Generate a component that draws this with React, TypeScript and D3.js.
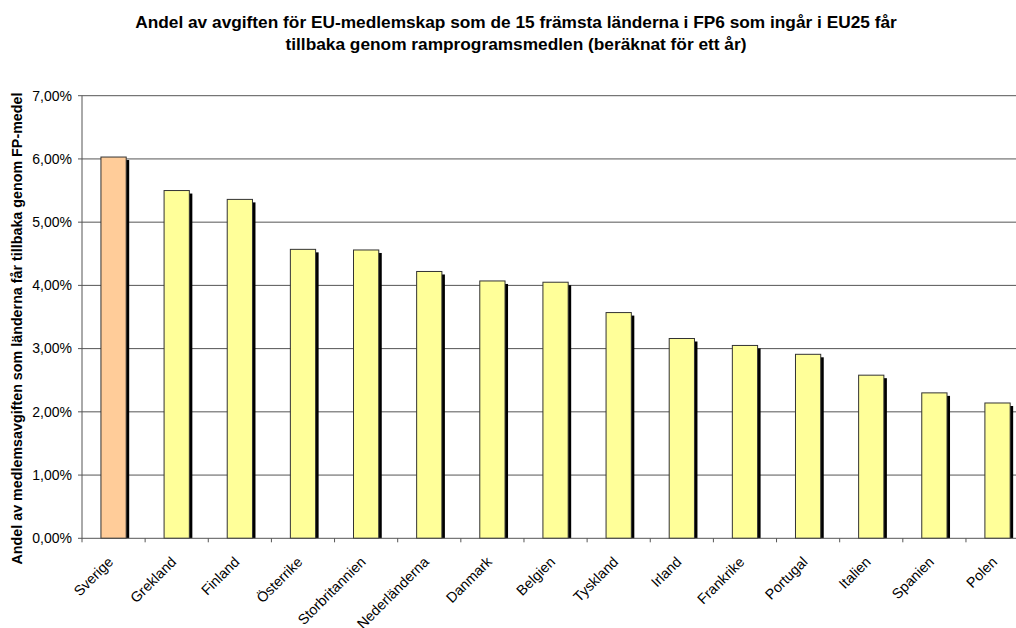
import React, { useEffect } from "react";
import * as d3 from "d3";

const categories = [
  "Sverige", "Grekland", "Finland", "Österrike", "Storbritannien", "Nederländerna",
  "Danmark", "Belgien", "Tyskland", "Irland", "Frankrike", "Portugal", "Italien", "Spanien", "Polen",
];
const values = [6.03, 5.5, 5.36, 4.57, 4.56, 4.22, 4.07, 4.05, 3.57, 3.16, 3.05, 2.91, 2.58, 2.3, 2.14];
const highlight = ["Sverige"];
const yTicks = [0, 1, 2, 3, 4, 5, 6, 7];
const titleLines = [
  "Andel av avgiften för EU-medlemskap som de 15 främsta länderna i FP6 som ingår i EU25 får",
  "tillbaka genom ramprogramsmedlen (beräknat för ett år)",
];
const yTitle = "Andel av medlemsavgiften som länderna får tillbaka genom FP-medel";

const W = 1016;
const H = 628;
const left = 82;
const step = 63.14;
const top = 95.7;
const bottom = 538.3;
const font = "'Liberation Sans', Arial, sans-serif";

export default function App() {
  useEffect(() => {
    document.body.style.margin = "0";
  }, []);
  const x = d3
    .scaleBand<string>()
    .domain(categories)
    .range([left, left + step * categories.length])
    .paddingInner(0.6)
    .paddingOuter(0.3);
  const y = d3.scaleLinear().domain([0, 7]).range([bottom, top]);
  const fmt = (v: number) => v.toFixed(2).replace(".", ",") + "%";
  const bw = x.bandwidth();
  return (
    <svg width={W} height={H} style={{ position: "absolute", left: 0, top: 0, background: "#fff" }}>
      <defs>
        <clipPath id="plot">
          <rect x={left} y={0} width={W} height={bottom} />
        </clipPath>
      </defs>
      {titleLines.map((t, i) => (
        <text key={i} x={516} y={27.7 + i * 22.3} textAnchor="middle" fontFamily={font} fontWeight="bold" fontSize={17.3}>
          {t}
        </text>
      ))}
      <text
        transform={`translate(22,328.5) rotate(-90)`}
        textAnchor="middle"
        fontFamily={font}
        fontWeight="bold"
        fontSize={14.3}
      >
        {yTitle}
      </text>
      {yTicks.map((t) => (
        <g key={t}>
          {t > 0 && <line x1={left} x2={W} y1={y(t)} y2={y(t)} stroke="#555" strokeWidth={1} />}
          <line x1={left - 4} x2={left} y1={y(t)} y2={y(t)} stroke="#555" />
          <text x={left - 10} y={y(t) + 4.8} textAnchor="end" fontFamily={font} fontSize={14}>
            {fmt(t)}
          </text>
        </g>
      ))}
      <g clipPath="url(#plot)">
        {categories.map((c, i) => (
          <rect key={c} x={(x(c) as number) + 3} y={y(values[i]) + 3} width={bw} height={bottom - y(values[i])} fill="#000" />
        ))}
      </g>
      {categories.map((c, i) => (
        <rect
          key={c}
          x={x(c) as number}
          y={y(values[i])}
          width={bw}
          height={bottom - y(values[i])}
          fill={highlight.includes(c) ? "#FFCC99" : "#FFFF99"}
          stroke="#333"
          strokeWidth={1}
        />
      ))}
      <line x1={left} x2={left} y1={top} y2={bottom} stroke="#555" />
      <line x1={left} x2={W} y1={bottom} y2={bottom} stroke="#555" />
      {d3.range(categories.length + 1).map((i) => (
        <line key={i} x1={left + i * step} x2={left + i * step} y1={bottom} y2={bottom + 4} stroke="#555" />
      ))}
      {categories.map((c) => {
        const cx = (x(c) as number) + bw / 2;
        return (
          <text
            key={c}
            transform={`translate(${cx + 0.5},${bottom + 24.5}) rotate(-45)`}
            textAnchor="end"
            fontFamily={font}
            fontSize={14.3}
          >
            {c}
          </text>
        );
      })}
    </svg>
  );
}
